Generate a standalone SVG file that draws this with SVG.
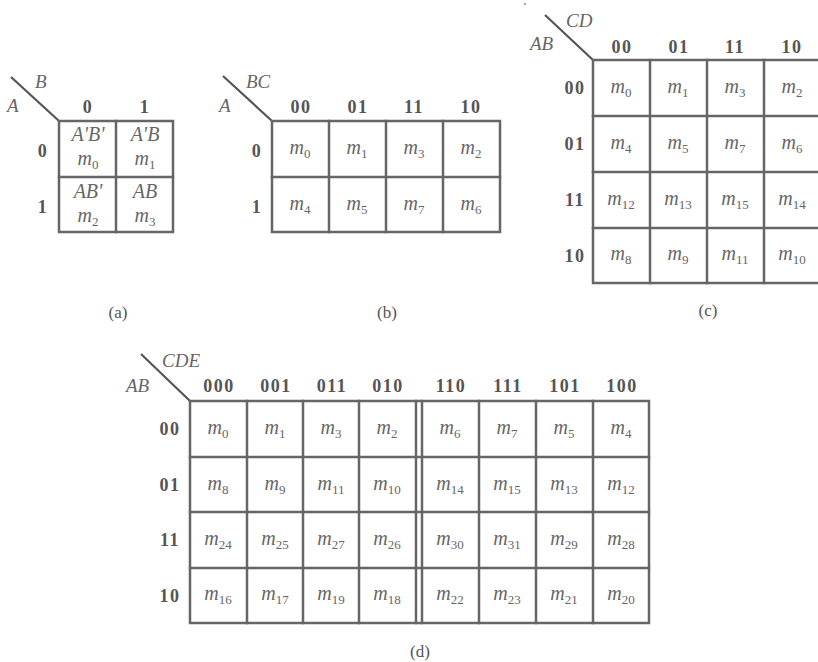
<svg xmlns="http://www.w3.org/2000/svg" width="818" height="662" viewBox="0 0 818 662">
<style>
.ln{stroke:#666;stroke-width:2.5;fill:none;stroke-linecap:square}
.dg{stroke:#555;stroke-width:2.2;fill:none}
.hd{font-family:"Liberation Serif",serif;font-weight:bold;font-size:18px;fill:#555;text-anchor:middle;letter-spacing:1.5px}
.var{font-family:"Liberation Serif",serif;font-style:italic;font-size:19px;fill:#666}
.m{font-family:"Liberation Serif",serif;font-style:italic;font-size:20px;fill:#666;text-anchor:middle}
.s{font-style:normal;font-size:13px}
.cap{font-family:"Liberation Serif",serif;font-size:17px;fill:#555;text-anchor:middle}
</style>
<rect width="818" height="662" fill="#fff"/>

<g id="map-a">
<line class="dg" x1="11" y1="77" x2="59" y2="121"/>
<text class="var" x="35" y="88">B</text>
<text class="var" x="7" y="112">A</text>
<text class="hd" x="88" y="113">0</text>
<text class="hd" x="145" y="113">1</text>
<text class="hd" x="43" y="157">0</text>
<text class="hd" x="43" y="213">1</text>
<rect class="ln" x="59" y="121" width="114" height="111"/>
<line class="ln" x1="116" y1="121" x2="116" y2="232"/>
<line class="ln" x1="59" y1="177" x2="173" y2="177"/>
<text class="m" x="88" y="141" font-size="19">A'B'</text>
<text class="m" x="88" y="165">m<tspan class="s" dy="4">0</tspan></text>
<text class="m" x="145" y="141" font-size="19">A'B</text>
<text class="m" x="145" y="165">m<tspan class="s" dy="4">1</tspan></text>
<text class="m" x="88" y="198" font-size="19">AB'</text>
<text class="m" x="88" y="222">m<tspan class="s" dy="4">2</tspan></text>
<text class="m" x="145" y="198" font-size="19">AB</text>
<text class="m" x="145" y="222">m<tspan class="s" dy="4">3</tspan></text>
<text class="cap" x="118" y="318">(a)</text>
</g>

<g id="map-b">
<line class="dg" x1="223" y1="76" x2="272" y2="121"/>
<text class="var" x="246" y="88">BC</text>
<text class="var" x="219" y="112">A</text>
<text class="hd" x="301" y="113">00</text>
<text class="hd" x="358" y="113">01</text>
<text class="hd" x="414" y="113">11</text>
<text class="hd" x="471" y="113">10</text>
<text class="hd" x="257" y="157">0</text>
<text class="hd" x="257" y="213">1</text>
<rect class="ln" x="272" y="121" width="228" height="111"/>
<line class="ln" x1="329" y1="121" x2="329" y2="232"/>
<line class="ln" x1="386" y1="121" x2="386" y2="232"/>
<line class="ln" x1="443" y1="121" x2="443" y2="232"/>
<line class="ln" x1="272" y1="177" x2="500" y2="177"/>
<text class="m" x="300" y="154">m<tspan class="s" dy="4">0</tspan></text>
<text class="m" x="357" y="154">m<tspan class="s" dy="4">1</tspan></text>
<text class="m" x="414" y="154">m<tspan class="s" dy="4">3</tspan></text>
<text class="m" x="471" y="154">m<tspan class="s" dy="4">2</tspan></text>
<text class="m" x="300" y="210">m<tspan class="s" dy="4">4</tspan></text>
<text class="m" x="357" y="210">m<tspan class="s" dy="4">5</tspan></text>
<text class="m" x="414" y="210">m<tspan class="s" dy="4">7</tspan></text>
<text class="m" x="471" y="210">m<tspan class="s" dy="4">6</tspan></text>
<text class="cap" x="387" y="318">(b)</text>
</g>

<g id="map-c">
<circle cx="525" cy="4" r="1" fill="#888"/>
<line class="dg" x1="545" y1="15" x2="593" y2="60"/>
<text class="var" x="566" y="27">CD</text>
<text class="var" x="530" y="50">AB</text>
<text class="hd" x="622" y="53">00</text>
<text class="hd" x="679" y="53">01</text>
<text class="hd" x="735" y="53">11</text>
<text class="hd" x="792" y="53">10</text>
<text class="hd" x="575" y="94">00</text>
<text class="hd" x="575" y="150">01</text>
<text class="hd" x="575" y="206">11</text>
<text class="hd" x="575" y="262">10</text>
<rect class="ln" x="593" y="60" width="228" height="223"/>
<line class="ln" x1="650" y1="60" x2="650" y2="283"/>
<line class="ln" x1="707" y1="60" x2="707" y2="283"/>
<line class="ln" x1="764" y1="60" x2="764" y2="283"/>
<line class="ln" x1="593" y1="116" x2="821" y2="116"/>
<line class="ln" x1="593" y1="172" x2="821" y2="172"/>
<line class="ln" x1="593" y1="228" x2="821" y2="228"/>
<text class="m" x="621" y="93">m<tspan class="s" dy="4">0</tspan></text>
<text class="m" x="678" y="93">m<tspan class="s" dy="4">1</tspan></text>
<text class="m" x="735" y="93">m<tspan class="s" dy="4">3</tspan></text>
<text class="m" x="792" y="93">m<tspan class="s" dy="4">2</tspan></text>
<text class="m" x="621" y="149">m<tspan class="s" dy="4">4</tspan></text>
<text class="m" x="678" y="149">m<tspan class="s" dy="4">5</tspan></text>
<text class="m" x="735" y="149">m<tspan class="s" dy="4">7</tspan></text>
<text class="m" x="792" y="149">m<tspan class="s" dy="4">6</tspan></text>
<text class="m" x="621" y="205">m<tspan class="s" dy="4">12</tspan></text>
<text class="m" x="678" y="205">m<tspan class="s" dy="4">13</tspan></text>
<text class="m" x="735" y="205">m<tspan class="s" dy="4">15</tspan></text>
<text class="m" x="792" y="205">m<tspan class="s" dy="4">14</tspan></text>
<text class="m" x="621" y="260">m<tspan class="s" dy="4">8</tspan></text>
<text class="m" x="678" y="260">m<tspan class="s" dy="4">9</tspan></text>
<text class="m" x="735" y="260">m<tspan class="s" dy="4">11</tspan></text>
<text class="m" x="792" y="260">m<tspan class="s" dy="4">10</tspan></text>
<text class="cap" x="708" y="316">(c)</text>
</g>

<g id="map-d">
<line class="dg" x1="141" y1="354" x2="190" y2="401"/>
<text class="var" x="162" y="367">CDE</text>
<text class="var" x="126" y="392">AB</text>
<text class="hd" x="219" y="392">000</text>
<text class="hd" x="276" y="392">001</text>
<text class="hd" x="332" y="392">011</text>
<text class="hd" x="388" y="392">010</text>
<text class="hd" x="451" y="392">110</text>
<text class="hd" x="508" y="392">111</text>
<text class="hd" x="565" y="392">101</text>
<text class="hd" x="622" y="392">100</text>
<text class="hd" x="170" y="435">00</text>
<text class="hd" x="170" y="491">01</text>
<text class="hd" x="170" y="546">11</text>
<text class="hd" x="170" y="602">10</text>
<rect class="ln" x="190" y="401" width="459" height="222"/>
<line class="ln" x1="247" y1="401" x2="247" y2="623"/>
<line class="ln" x1="303" y1="401" x2="303" y2="623"/>
<line class="ln" x1="359" y1="401" x2="359" y2="623"/>
<line class="ln" x1="416" y1="401" x2="416" y2="623"/>
<line class="ln" x1="422" y1="401" x2="422" y2="623"/>
<line class="ln" x1="479" y1="401" x2="479" y2="623"/>
<line class="ln" x1="536" y1="401" x2="536" y2="623"/>
<line class="ln" x1="593" y1="401" x2="593" y2="623"/>
<line class="ln" x1="190" y1="457" x2="649" y2="457"/>
<line class="ln" x1="190" y1="512" x2="649" y2="512"/>
<line class="ln" x1="190" y1="568" x2="649" y2="568"/>
<text class="m" x="218" y="434">m<tspan class="s" dy="4">0</tspan></text>
<text class="m" x="275" y="434">m<tspan class="s" dy="4">1</tspan></text>
<text class="m" x="331" y="434">m<tspan class="s" dy="4">3</tspan></text>
<text class="m" x="387" y="434">m<tspan class="s" dy="4">2</tspan></text>
<text class="m" x="450" y="434">m<tspan class="s" dy="4">6</tspan></text>
<text class="m" x="507" y="434">m<tspan class="s" dy="4">7</tspan></text>
<text class="m" x="564" y="434">m<tspan class="s" dy="4">5</tspan></text>
<text class="m" x="621" y="434">m<tspan class="s" dy="4">4</tspan></text>
<text class="m" x="218" y="490">m<tspan class="s" dy="4">8</tspan></text>
<text class="m" x="275" y="490">m<tspan class="s" dy="4">9</tspan></text>
<text class="m" x="331" y="490">m<tspan class="s" dy="4">11</tspan></text>
<text class="m" x="387" y="490">m<tspan class="s" dy="4">10</tspan></text>
<text class="m" x="450" y="490">m<tspan class="s" dy="4">14</tspan></text>
<text class="m" x="507" y="490">m<tspan class="s" dy="4">15</tspan></text>
<text class="m" x="564" y="490">m<tspan class="s" dy="4">13</tspan></text>
<text class="m" x="621" y="490">m<tspan class="s" dy="4">12</tspan></text>
<text class="m" x="218" y="545">m<tspan class="s" dy="4">24</tspan></text>
<text class="m" x="275" y="545">m<tspan class="s" dy="4">25</tspan></text>
<text class="m" x="331" y="545">m<tspan class="s" dy="4">27</tspan></text>
<text class="m" x="387" y="545">m<tspan class="s" dy="4">26</tspan></text>
<text class="m" x="450" y="545">m<tspan class="s" dy="4">30</tspan></text>
<text class="m" x="507" y="545">m<tspan class="s" dy="4">31</tspan></text>
<text class="m" x="564" y="545">m<tspan class="s" dy="4">29</tspan></text>
<text class="m" x="621" y="545">m<tspan class="s" dy="4">28</tspan></text>
<text class="m" x="218" y="600">m<tspan class="s" dy="4">16</tspan></text>
<text class="m" x="275" y="600">m<tspan class="s" dy="4">17</tspan></text>
<text class="m" x="331" y="600">m<tspan class="s" dy="4">19</tspan></text>
<text class="m" x="387" y="600">m<tspan class="s" dy="4">18</tspan></text>
<text class="m" x="450" y="600">m<tspan class="s" dy="4">22</tspan></text>
<text class="m" x="507" y="600">m<tspan class="s" dy="4">23</tspan></text>
<text class="m" x="564" y="600">m<tspan class="s" dy="4">21</tspan></text>
<text class="m" x="621" y="600">m<tspan class="s" dy="4">20</tspan></text>
<text class="cap" x="420" y="657">(d)</text>
</g>
</svg>
